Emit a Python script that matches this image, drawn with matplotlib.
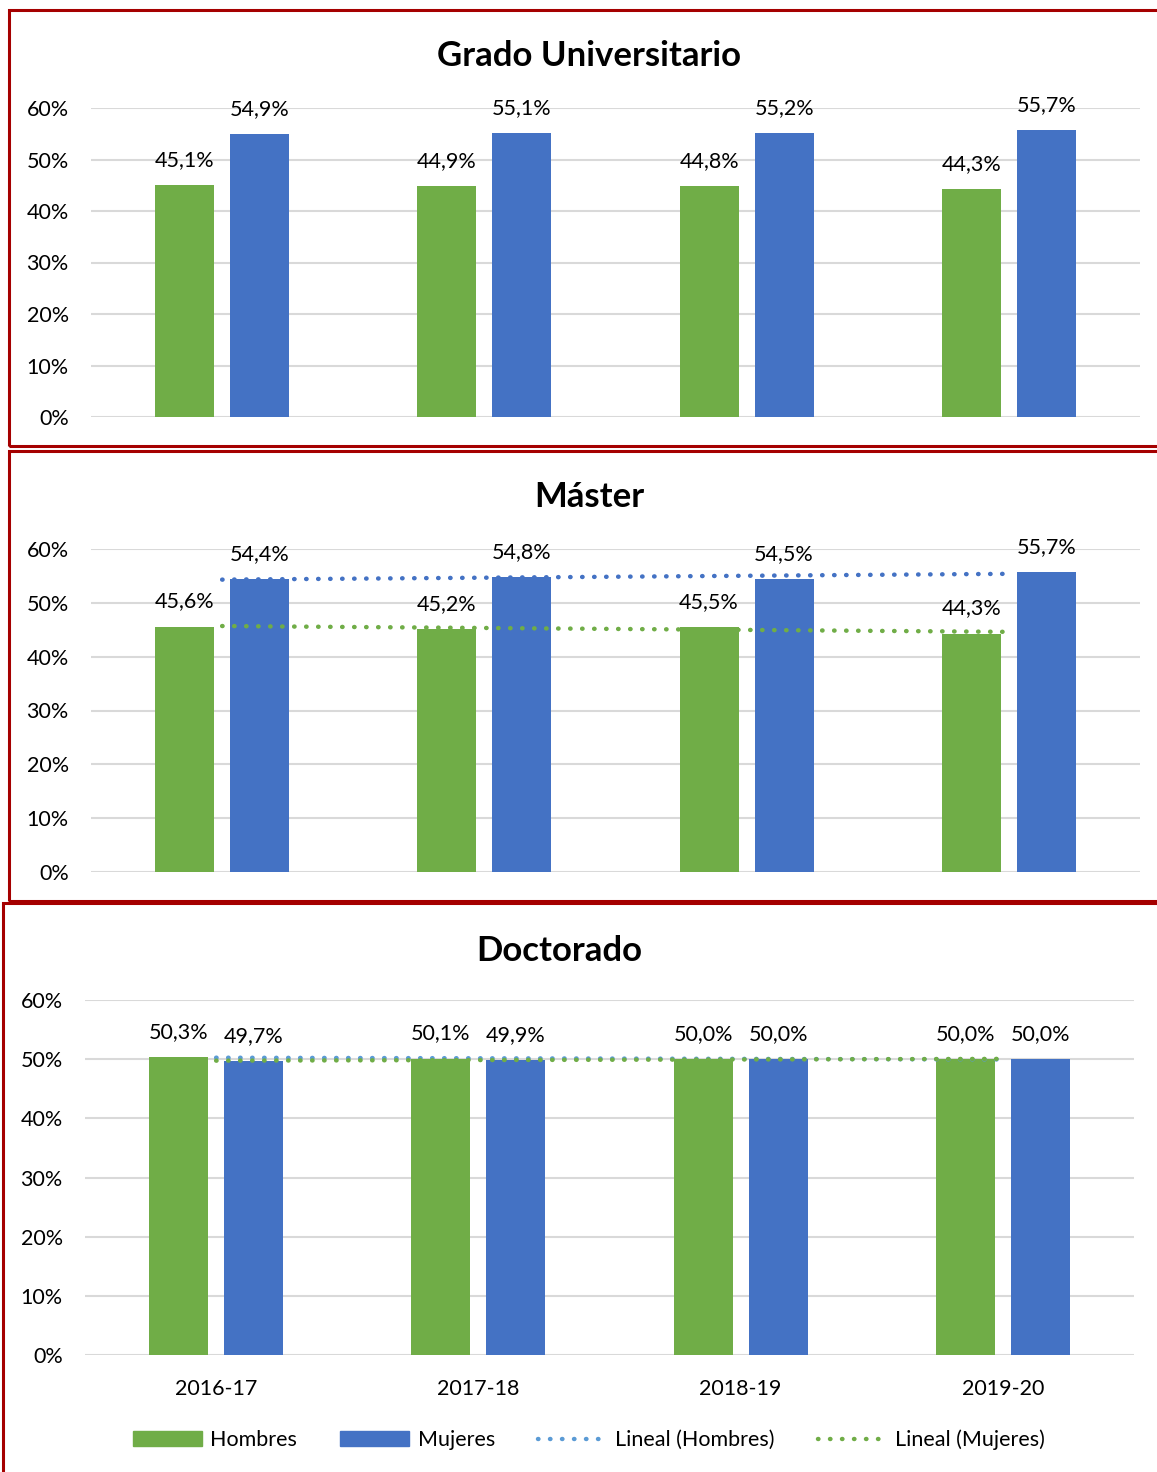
import numpy as np
import matplotlib.pyplot as plt
from matplotlib.lines import Line2D
from matplotlib.patches import Patch

plt.rcParams['font.family'] = ['Lato', 'DejaVu Sans']

# Data
cursos = ["2016-17", "2017-18", "2018-19", "2019-20"]
grado_h = [45.1, 44.9, 44.8, 44.3]
grado_m = [54.9, 55.1, 55.2, 55.7]
master_h = [45.6, 45.2, 45.5, 44.3]
master_m = [54.4, 54.8, 54.5, 55.7]
doct_h = [50.3, 50.1, 50.0, 50.0]
doct_m = [49.7, 49.9, 50.0, 50.0]

GREEN = "#70AD47"
BLUE = "#4472C4"
LIGHTBLUE = "#5B9BD5"
BORDER = "#A50000"
FS = 15.5

W, H = 1157, 1472
fig = plt.figure(figsize=(W / 100, H / 100), dpi=100)


def box(x0, y0, x1, y1):
    # red frame given in pixel coords (top-left origin)
    r = plt.Rectangle((x0 / W, 1 - y1 / H), (x1 - x0) / W, (y1 - y0) / H,
                      transform=fig.transFigure, fill=False,
                      edgecolor=BORDER, linewidth=2.2, clip_on=False)
    fig.add_artist(r)


box(9, 10, 1170, 446)
box(9, 451, 1170, 901)
box(3, 903, 1170, 1490)

DOTS = (0, (0.1, 2.6))
LW = 3.2
dot = dict(linestyle=DOTS, linewidth=LW, dash_capstyle='round', zorder=5)


def trend(ax, vals, color):
    x = np.arange(len(vals))
    k, b = np.polyfit(x, vals, 1)
    ax.plot([x[0], x[-1]], [b + k * x[0], b + k * x[-1]], color=color, **dot)


def panel(rect, title, title_xy, hom, muj, show_x=False):
    ax = fig.add_axes(rect)
    x = np.arange(len(cursos))
    off, w = 0.143, 0.225
    ax.bar(x - off, hom, w, color=GREEN, zorder=3)
    ax.bar(x + off, muj, w, color=BLUE, zorder=3)
    for xi, h, m in zip(x, hom, muj):
        for xx, v in ((xi - off, h), (xi + off, m)):
            ax.annotate(f"{v:.1f}".replace(".", ",") + "%", (xx, v),
                        xytext=(0, 18), textcoords="offset points",
                        ha="center", va="center", fontsize=FS)
    ax.set_xlim(-0.5, 3.5)
    ax.set_ylim(0, 60)
    ax.set_yticks(range(0, 61, 10))
    ax.set_yticklabels([f"{t}%" for t in range(0, 61, 10)], fontsize=FS)
    ax.yaxis.grid(True, color="#D9D9D9", linewidth=1.5, zorder=0)
    ax.set_axisbelow(True)
    for s in ax.spines.values():
        s.set_visible(False)
    ax.tick_params(axis="y", length=0, pad=16)
    ax.tick_params(axis="x", length=0, pad=17)
    ax.set_xticks(x)
    if show_x:
        ax.set_xticklabels(cursos, fontsize=FS)
    else:
        ax.set_xticklabels([])
    fig.text(title_xy[0] / W, 1 - title_xy[1] / H, title, ha="center",
             va="center", fontsize=25, fontweight="bold")
    return ax


ax1 = panel([91 / W, 1 - 417 / H, 1049 / W, 309 / H],
            "Grado Universitario", (589, 56), grado_h, grado_m)

ax2 = panel([91 / W, 1 - 872 / H, 1049 / W, 323 / H],
            "Máster", (589, 497), master_h, master_m)
trend(ax2, master_m, BLUE)
trend(ax2, master_h, GREEN)

ax3 = panel([85 / W, 1 - 1355 / H, 1049 / W, 355 / H],
            "Doctorado", (559, 951), doct_h, doct_m, show_x=True)
trend(ax3, doct_h, LIGHTBLUE)
trend(ax3, doct_m, GREEN)

handles = [Patch(color=GREEN), Patch(color=BLUE),
           Line2D([], [], color=LIGHTBLUE, linestyle=DOTS,
                  linewidth=LW, dash_capstyle='round'),
           Line2D([], [], color=GREEN, linestyle=DOTS,
                  linewidth=LW, dash_capstyle='round')]
labels = ["Hombres", "Mujeres", "Lineal (Hombres)", "Lineal (Mujeres)"]
fig.legend(handles, labels, loc="center", bbox_to_anchor=(589 / W, 1 - 1440 / H),
           ncol=4, frameon=False, fontsize=FS, handlelength=3.2,
           handletextpad=0.4, columnspacing=2.0)

fig.savefig("out.png", dpi=100)
